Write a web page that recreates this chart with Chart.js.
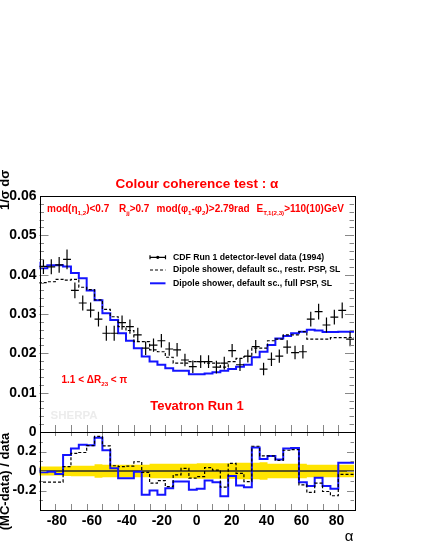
<!DOCTYPE html>
<html lang="en">
<head>
<meta charset="UTF-8">
<script src="https://cdn.jsdelivr.net/npm/chart.js"></script>
<title>Colour coherence test : alpha</title>
<style>
  html, body { margin: 0; padding: 0; background: #fff; }
  #wrap { position: relative; width: 425px; height: 550px; overflow: hidden; }
  #plot { position: absolute; left: 0; top: 170px; }
</style>
</head>
<body>
<div id="wrap"><canvas id="plot" width="425" height="380"></canvas></div>
<script>
// binning: 40 bins of 4.5 deg from -90 to 90
const binEdges = Array.from({ length: 41 }, (_, i) => -90 + 4.5 * i);
const xTickLabels = [-80, -60, -40, -20, 0, 20, 40, 60, 80];
const ratioTickLabels = [-0.2, 0, 0.2];

// CDF Run 1 detector-level data (1994)
const dataVals = [0.0421, 0.0420, 0.0425, 0.0439, 0.0360, 0.0328, 0.0310, 0.0287, 0.0251, 0.0251,
                  0.0278, 0.0268, 0.0247, 0.0213, 0.0221, 0.0232, 0.0211, 0.0209, 0.0183, 0.0166,
                  0.0179, 0.0179, 0.0165, 0.0175, 0.0207, 0.0171, 0.0193, 0.0217, 0.0160, 0.0185,
                  0.0193, 0.0216, 0.0202, 0.0204, 0.0287, 0.0306, 0.0272, 0.0292, 0.0309, 0.0236];
const dataErr = [0.0019, 0.0019, 0.0020, 0.0025, 0.0020, 0.0019, 0.0019, 0.0019, 0.0019, 0.0019,
                 0.0018, 0.0018, 0.0018, 0.0017, 0.0017, 0.0017, 0.0017, 0.0017, 0.0016, 0.0016,
                 0.0016, 0.0016, 0.0016, 0.0016, 0.0017, 0.0016, 0.0016, 0.0017, 0.0016, 0.0017,
                 0.0017, 0.0017, 0.0017, 0.0017, 0.0019, 0.0020, 0.0019, 0.0019, 0.0020, 0.0018];
// relative data uncertainty (yellow band in ratio panel)
const dataBand = [0.045, 0.045, 0.045, 0.05, 0.055, 0.055, 0.055, 0.07, 0.065, 0.065,
                  0.065, 0.065, 0.065, 0.065, 0.075, 0.075, 0.075, 0.075, 0.075, 0.075,
                  0.08, 0.08, 0.08, 0.08, 0.08, 0.085, 0.085, 0.085, 0.09, 0.075,
                  0.075, 0.075, 0.075, 0.075, 0.065, 0.065, 0.065, 0.065, 0.065, 0.065];

// Dipole shower, default sc., restr. PSP, SL
const restrPSP = [0.0378, 0.0380, 0.0382, 0.0388, 0.0386, 0.0388, 0.0368, 0.0362, 0.0336, 0.0312,
                  0.0293, 0.0268, 0.0258, 0.0230, 0.0230, 0.0209, 0.0204, 0.0190, 0.0175, 0.0175,
                  0.0179, 0.0179, 0.0175, 0.0175, 0.0165, 0.0179, 0.0187, 0.0192, 0.0213, 0.0213,
                  0.0232, 0.0236, 0.0247, 0.0247, 0.0255, 0.0236, 0.0236, 0.0236, 0.0240, 0.0240];
// Dipole shower, default sc., full PSP, SL
const fullPSP = [0.0433, 0.0416, 0.0424, 0.0424, 0.0421, 0.0404, 0.0391, 0.0360, 0.0335, 0.0302,
                 0.0285, 0.0251, 0.0232, 0.0213, 0.0192, 0.0179, 0.0171, 0.0162, 0.0156, 0.0156,
                 0.0147, 0.0147, 0.0149, 0.0152, 0.0156, 0.0160, 0.0166, 0.0171, 0.0190, 0.0204,
                 0.0221, 0.0238, 0.0244, 0.0251, 0.0255, 0.0260, 0.0258, 0.0254, 0.0254, 0.0255];

// (MC-data)/data
const ratioRestr = [-0.10, -0.115, -0.115, -0.115, 0.044, 0.18, 0.19, 0.26, 0.355, 0.257,
                    0.054, 0.044, 0.05, 0.095, -0.014, -0.125, -0.098, -0.16, -0.04, 0.027,
                    -0.074, -0.058, 0.034, 0.01, -0.166, 0.078, -0.024, -0.108, 0.254, 0.155,
                    0.155, 0.11, 0.213, 0.22, -0.142, -0.22, -0.125, -0.21, -0.254, -0.034];
const ratioFull = [0.034, -0.014, -0.007, -0.03, 0.163, 0.23, 0.27, 0.264, 0.34, 0.214,
                   0.027, -0.075, -0.075, -0.007, -0.244, -0.2, -0.244, -0.176, -0.108, -0.108,
                   -0.193, -0.183, -0.098, -0.115, -0.26, -0.05, -0.149, -0.166, 0.24, 0.122,
                   0.153, 0.119, 0.23, 0.237, -0.115, -0.153, -0.068, -0.153, -0.183, 0.085];

const FONT = '"Liberation Sans", Arial, Helvetica, sans-serif';
const RED = '#ff0000';
const BLUE = 'rgb(20,20,255)';

// histogram as stepped line: one point per bin low edge + closing point
function histo(vals) {
  const pts = vals.map((v, i) => ({ x: binEdges[i], y: v }));
  pts.push({ x: binEdges[vals.length], y: vals[vals.length - 1] });
  return pts;
}
const binCentres = dataVals.map((v, i) => ({ x: (binEdges[i] + binEdges[i + 1]) / 2, y: v }));

function richText(ctx, parts, x, y, size, color) {
  ctx.fillStyle = color;
  ctx.textAlign = 'left';
  ctx.textBaseline = 'alphabetic';
  parts.forEach(([t, sub]) => {
    const fs = sub ? size * 0.62 : size;
    ctx.font = `bold ${fs}px ${FONT}`;
    ctx.fillText(t, x, sub ? y + size * 0.3 : y);
    x += ctx.measureText(t).width;
  });
}

const rootStyle = {
  id: 'rootStyle',
  beforeDatasetsDraw(chart) {
    const ctx = chart.ctx, xs = chart.scales.x, yr = chart.scales.yr;
    const area = chart.chartArea;
    ctx.save();
    // yellow data uncertainty band
    ctx.fillStyle = 'rgb(255,228,0)';
    ctx.beginPath();
    dataBand.forEach((b, i) => {
      const x0 = xs.getPixelForValue(binEdges[i]), x1 = xs.getPixelForValue(binEdges[i + 1]);
      const yt = yr.getPixelForValue(b);
      if (i === 0) ctx.moveTo(x0, yt); else ctx.lineTo(x0, yt);
      ctx.lineTo(x1, yt);
    });
    for (let i = dataBand.length - 1; i >= 0; i--) {
      const x0 = xs.getPixelForValue(binEdges[i]), x1 = xs.getPixelForValue(binEdges[i + 1]);
      const yb = yr.getPixelForValue(-dataBand[i]);
      ctx.lineTo(x1, yb);
      ctx.lineTo(x0, yb);
    }
    ctx.closePath();
    ctx.fill();
    // zero line
    ctx.strokeStyle = 'rgba(40,40,40,0.75)';
    ctx.lineWidth = 2;
    ctx.beginPath();
    ctx.moveTo(area.left, yr.getPixelForValue(0));
    ctx.lineTo(area.right, yr.getPixelForValue(0));
    ctx.stroke();
    // SHERPA watermark
    ctx.fillStyle = '#ececec';
    ctx.font = `bold 11.5px ${FONT}`;
    ctx.textAlign = 'left';
    ctx.textBaseline = 'middle';
    ctx.fillText('SHERPA', 50.5, 246);
    ctx.restore();
  },
  afterDatasetsDraw(chart) {
    const ctx = chart.ctx, xs = chart.scales.x, y = chart.scales.y, yr = chart.scales.yr;
    ctx.save();
    // data error crosses
    ctx.strokeStyle = '#000';
    ctx.lineWidth = 1.2;
    dataVals.forEach((v, i) => {
      const x0 = xs.getPixelForValue(binEdges[i]), x1 = xs.getPixelForValue(binEdges[i + 1]);
      const xc = xs.getPixelForValue(binCentres[i].x);
      const yc = y.getPixelForValue(v);
      ctx.beginPath();
      ctx.moveTo(x0, yc); ctx.lineTo(x1, yc);
      ctx.moveTo(xc, y.getPixelForValue(v - dataErr[i]));
      ctx.lineTo(xc, y.getPixelForValue(v + dataErr[i]));
      ctx.stroke();
    });

    // frames and inner tick marks
    const L = xs.left, R = xs.right;
    const mTop = y.top, mBot = y.bottom, rTop = yr.top, rBot = yr.bottom;
    ctx.strokeStyle = '#888';
    ctx.lineWidth = 1;
    ctx.beginPath();
    for (let k = 1; k < 30; k++) {
      const py = Math.round(y.getPixelForValue(k * 0.002)) + 0.5;
      const len = k % 5 === 0 ? 9 : 4.5;
      ctx.moveTo(L, py); ctx.lineTo(L + len, py);
      ctx.moveTo(R, py); ctx.lineTo(R - len, py);
    }
    for (let k = -3; k <= 3; k++) {
      const py = Math.round(yr.getPixelForValue(k * 0.1)) + 0.5;
      const len = k % 2 === 0 ? 7 : 3.5;
      ctx.moveTo(L, py); ctx.lineTo(L + len, py);
      ctx.moveTo(R, py); ctx.lineTo(R - len, py);
    }
    for (let a = -81; a <= 81; a += 9) {
      const px = Math.round(xs.getPixelForValue(a)) + 0.5;
      ctx.moveTo(px, mBot); ctx.lineTo(px, mBot - 7);
      ctx.moveTo(px, rTop); ctx.lineTo(px, rTop + 4);
      ctx.moveTo(px, rBot); ctx.lineTo(px, rBot - 6);
    }
    ctx.stroke();

    ctx.strokeStyle = '#000';
    ctx.lineWidth = 1;
    ctx.strokeRect(Math.round(L) + 0.5, Math.round(mTop) + 0.5, Math.round(R - L), Math.round(mBot - mTop));
    ctx.strokeRect(Math.round(L) + 0.5, Math.round(rTop) + 0.5, Math.round(R - L), Math.round(rBot - rTop));
    ctx.restore();
  },
  afterDraw(chart) {
    const ctx = chart.ctx;
    ctx.save();
    // title
    ctx.fillStyle = RED;
    ctx.font = `bold 13.5px ${FONT}`;
    ctx.textAlign = 'center';
    ctx.textBaseline = 'middle';
    ctx.fillText('Colour coherence test : \u03b1', 197, 14);

    // selection cuts
    richText(ctx, [['mod(\u03b7'], ['1,2', 1], [')<0.7']], 47, 41.6, 10, RED);
    richText(ctx, [['R'], ['jj', 1], ['>0.7']], 119, 41.6, 10, RED);
    richText(ctx, [['mod(\u03c6'], ['1', 1], ['-\u03c6'], ['2', 1], [')>2.79rad']], 156.5, 41.6, 10, RED);
    richText(ctx, [['E'], ['T,1(2,3)', 1], ['>110(10)GeV']], 256.5, 41.6, 10, RED);
    richText(ctx, [['1.1 < \u0394R'], ['23', 1], [' < \u03c0']], 61.5, 212.5, 10, RED);

    ctx.fillStyle = RED;
    ctx.font = `bold 13px ${FONT}`;
    ctx.textAlign = 'center';
    ctx.textBaseline = 'middle';
    ctx.fillText('Tevatron Run 1', 197, 236.7);

    // legend
    const rows = [87.3, 100, 113.3];
    const lx0 = 150, lx1 = 165.5;
    ctx.strokeStyle = '#000';
    ctx.lineWidth = 1.2;
    ctx.beginPath();
    ctx.moveTo(lx0, rows[0]); ctx.lineTo(lx1, rows[0]);
    ctx.moveTo(lx0, rows[0] - 2); ctx.lineTo(lx0, rows[0] + 2);
    ctx.moveTo(lx1, rows[0] - 2); ctx.lineTo(lx1, rows[0] + 2);
    ctx.stroke();
    ctx.fillStyle = '#000';
    ctx.beginPath();
    ctx.arc((lx0 + lx1) / 2, rows[0], 1.6, 0, Math.PI * 2);
    ctx.fill();
    ctx.setLineDash([3, 2]);
    ctx.beginPath();
    ctx.moveTo(lx0, rows[1]); ctx.lineTo(lx1, rows[1]);
    ctx.stroke();
    ctx.setLineDash([]);
    ctx.strokeStyle = BLUE;
    ctx.lineWidth = 2;
    ctx.beginPath();
    ctx.moveTo(lx0, rows[2]); ctx.lineTo(lx1, rows[2]);
    ctx.stroke();
    ctx.fillStyle = '#000';
    ctx.font = `bold 8.7px ${FONT}`;
    ctx.textAlign = 'left';
    ctx.textBaseline = 'middle';
    ctx.fillText('CDF Run 1 detector-level data (1994)', 173, rows[0]);
    ctx.fillText('Dipole shower, default sc., restr. PSP, SL', 173, rows[1]);
    ctx.fillText('Dipole shower, default sc., full PSP, SL', 173, rows[2]);

    // axis titles
    ctx.font = `15px ${FONT}`;
    ctx.textAlign = 'center';
    ctx.fillText('\u03b1', 349, 367);

    ctx.font = `bold 13px ${FONT}`;
    ctx.textBaseline = 'alphabetic';
    ctx.save();
    ctx.translate(9, 40);
    ctx.rotate(-Math.PI / 2);
    ctx.textAlign = 'left';
    ctx.fillText('1/\u03c3 d\u03c3/d\u03b1', 0, 0);
    ctx.restore();
    ctx.save();
    ctx.translate(8.5, 311.5);
    ctx.rotate(-Math.PI / 2);
    ctx.textAlign = 'center';
    ctx.fillText('(MC-data) / data', 0, 0);
    ctx.restore();
    ctx.restore();
  }
};

const tickFont = { family: FONT, size: 14, weight: 'bold' };
const noGrid = { display: false, drawTicks: false, tickLength: 0 };

new Chart(document.getElementById('plot'), {
  type: 'line',
  data: {
    datasets: [
      { label: 'CDF Run 1 detector-level data (1994)', data: binCentres, showLine: false,
        pointRadius: 0, yAxisID: 'y' },
      { label: 'Dipole shower, default sc., restr. PSP, SL', data: histo(restrPSP), stepped: 'after',
        borderColor: '#000', borderWidth: 1.2, borderDash: [3, 2], pointRadius: 0, yAxisID: 'y' },
      { label: 'Dipole shower, default sc., full PSP, SL', data: histo(fullPSP), stepped: 'after',
        borderColor: BLUE, borderWidth: 2, pointRadius: 0, yAxisID: 'y' },
      { label: 'ratio restr', data: histo(ratioRestr), stepped: 'after',
        borderColor: '#000', borderWidth: 1.2, borderDash: [3, 2], pointRadius: 0, yAxisID: 'yr' },
      { label: 'ratio full', data: histo(ratioFull), stepped: 'after',
        borderColor: BLUE, borderWidth: 2, pointRadius: 0, yAxisID: 'yr' }
    ]
  },
  options: {
    responsive: false,
    animation: false,
    layout: { padding: { left: 0, right: 71, top: 26, bottom: 0 } },
    plugins: { legend: { display: false }, tooltip: { enabled: false } },
    scales: {
      x: {
        type: 'linear', min: -90, max: 90, position: 'bottom',
        grid: noGrid, border: { display: false },
        afterBuildTicks: s => { s.ticks = xTickLabels.map(v => ({ value: v })); },
        afterFit: s => { s.height = 40; },
        ticks: { font: tickFont, color: '#000', padding: 3, maxRotation: 0, autoSkip: false }
      },
      yr: {
        type: 'linear', min: -0.4, max: 0.4, position: 'left', stack: 'panels', stackWeight: 78,
        grid: noGrid, border: { display: false },
        afterBuildTicks: s => { s.ticks = ratioTickLabels.map(v => ({ value: v })); },
        afterFit: s => { s.width = 39.5; },
        ticks: { font: tickFont, color: '#000', padding: 3,
                 callback: v => (v === 0 ? '0' : v.toFixed(1)) }
      },
      y: {
        type: 'linear', min: 0, max: 0.06, position: 'left', stack: 'panels', stackWeight: 236,
        grid: noGrid, border: { display: false },
        afterFit: s => { s.width = 39.5; },
        ticks: { font: tickFont, color: '#000', padding: 3, stepSize: 0.01,
                 callback: v => (v === 0 ? '0' : v.toFixed(2)) }
      }
    }
  },
  plugins: [rootStyle]
});
</script>
</body>
</html>
